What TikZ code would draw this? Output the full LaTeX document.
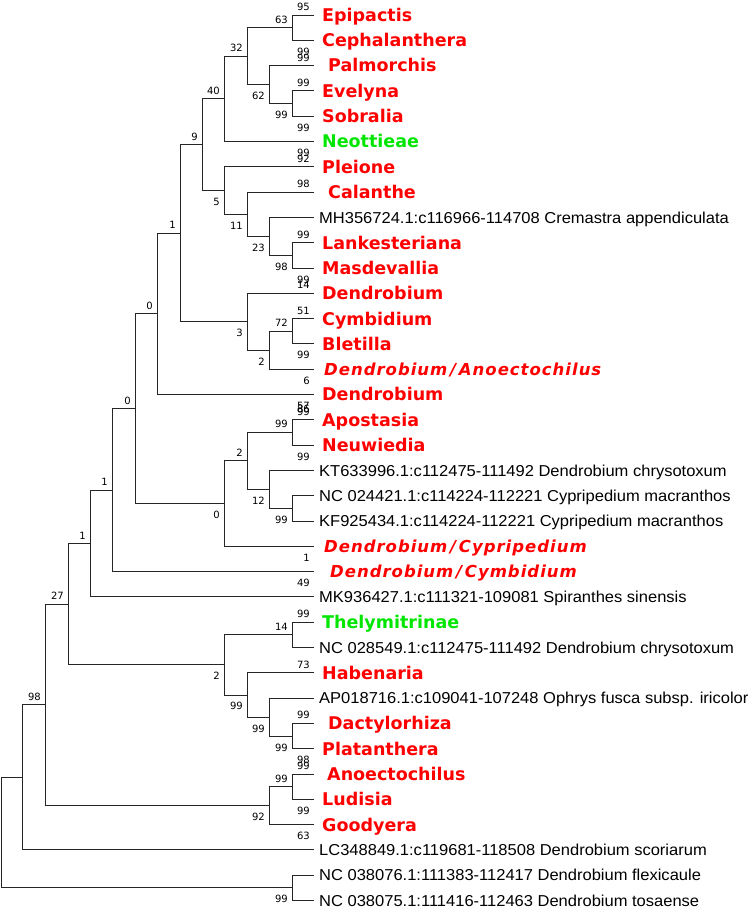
\documentclass[tikz,border=0pt]{standalone}
\usepackage{fontspec}
\setmainfont{Liberation Sans}
\newfontfamily\accfont[FakeStretch=1.045]{Liberation Sans}
\newfontfamily\verdfont{DejaVu Sans}
\newfontfamily\verdspaced[LetterSpace=6]{DejaVu Sans}
\definecolor{taxred}{RGB}{255,0,0}
\definecolor{taxgreen}{RGB}{0,230,0}
\tikzset{
	branch/.style={draw=black!85, line width=0.9pt},
	taxon/.style={anchor=base west, inner sep=0, xshift=8pt, yshift=-6.4pt, text=taxred, font=\verdfont\bfseries\fontsize{17.5}{20}\selectfont},
	taxit/.style={anchor=base west, inner sep=0, xshift=10pt, yshift=-6.2pt, text=taxred, font=\verdspaced\bfseries\itshape\fontsize{16.5}{20}\selectfont},
	clade/.style={taxon, text=taxgreen},
	accn/.style={anchor=base west, inner sep=0, xshift=5pt, yshift=-5.6pt, font=\accfont\fontsize{15.8}{18}\selectfont},
	bsup/.style={anchor=base east, inner sep=0, xshift=-4pt, yshift=4.5pt, font=\verdfont\fontsize{10}{12}\selectfont},
	bsdown/.style={bsup, yshift=-19.5pt}
}
\begin{document}
\begin{tikzpicture}[x=1pt, y=-1pt]
	\useasboundingbox (0,0) rectangle (751,912);

	\foreach \i in {1,...,36}
	{
		\coordinate (l\i) at (314, {15+(\i-1)*25.3});
	};

	\coordinate (n1) at (292, 27.65);
	\coordinate (n2) at (292, 103.55);
	\coordinate (n3) at (269, 84.6);
	\coordinate (n4) at (247, 56.1);
	\coordinate (n5) at (224, 98.8);
	\coordinate (n6) at (292, 255.35);
	\coordinate (n7) at (269, 236.4);
	\coordinate (n8) at (247, 214.25);
	\coordinate (n9) at (224, 190.5);
	\coordinate (n10) at (202, 144.65);
	\coordinate (n11) at (292, 331.25);
	\coordinate (n12) at (269, 350.2);
	\coordinate (n13) at (247, 321.75);
	\coordinate (n14) at (180, 233.2);
	\coordinate (n15) at (157, 313.85);
	\coordinate (n16) at (292, 432.45);
	\coordinate (n17) at (292, 508.35);
	\coordinate (n18) at (269, 489.4);
	\coordinate (n19) at (247, 460.9);
	\coordinate (n20) at (224, 503.6);
	\coordinate (n21) at (135, 408.7);
	\coordinate (n22) at (112, 490.15);
	\coordinate (n23) at (90, 543.5);
	\coordinate (n24) at (292, 634.85);
	\coordinate (n25) at (292, 736.05);
	\coordinate (n26) at (269, 717.1);
	\coordinate (n27) at (247, 694.95);
	\coordinate (n28) at (224, 664.9);
	\coordinate (n29) at (68, 604.2);
	\coordinate (n30) at (292, 786.65);
	\coordinate (n31) at (269, 805.6);
	\coordinate (n32) at (45, 704.9);
	\coordinate (n33) at (22, 777.4);
	\coordinate (n34) at (292, 887.85);
	\coordinate (n35) at (1, 832.6);

	\foreach \p / \c in {n1/l1, n1/l2, n2/l4, n2/l5, n3/l3, n3/n2, n4/n1, n4/n3,
		n5/n4, n5/l6, n6/l10, n6/l11, n7/l9, n7/n6, n8/l8, n8/n7, n9/l7, n9/n8,
		n10/n5, n10/n9, n11/l13, n11/l14, n12/n11, n12/l15, n13/l12, n13/n12,
		n14/n10, n14/n13, n15/n14, n15/l16, n16/l17, n16/l18, n17/l20, n17/l21,
		n18/l19, n18/n17, n19/n16, n19/n18, n20/n19, n20/l22, n21/n15, n21/n20,
		n22/n21, n22/l23, n23/n22, n23/l24, n24/l25, n24/l26, n25/l29, n25/l30,
		n26/l28, n26/n25, n27/l27, n27/n26, n28/n24, n28/n27, n29/n23, n29/n28,
		n30/l31, n30/l32, n31/n30, n31/l33, n32/n29, n32/n31, n33/n32, n33/l34,
		n34/l35, n34/l36, n35/n33, n35/n34}
	{
		\draw[branch] (\p) |- (\c);
	};

	\node[taxon] (t1) at (l1) {Epipactis};
	\node[taxon] (t2) at (l2) {Cephalanthera};
	\node[taxon, xshift=6pt] (t3) at (l3) {Palmorchis};
	\node[taxon] (t4) at (l4) {Evelyna};
	\node[taxon] (t5) at (l5) {Sobralia};
	\node[clade] (t6) at (l6) {Neottieae};
	\node[taxon] (t7) at (l7) {Pleione};
	\node[taxon, xshift=6pt] (t8) at (l8) {Calanthe};
	\node[accn] (t9) at (l9) {MH356724.1:c116966-114708 Cremastra appendiculata};
	\node[taxon] (t10) at (l10) {Lankesteriana};
	\node[taxon] (t11) at (l11) {Masdevallia};
	\node[taxon] (t12) at (l12) {Dendrobium};
	\node[taxon] (t13) at (l13) {Cymbidium};
	\node[taxon] (t14) at (l14) {Bletilla};
	\node[taxit] (t15) at (l15) {Dendrobium\,/\,Anoectochilus};
	\node[taxon] (t16) at (l16) {Dendrobium};
	\node[taxon] (t17) at (l17) {Apostasia};
	\node[taxon] (t18) at (l18) {Neuwiedia};
	\node[accn] (t19) at (l19) {KT633996.1:c112475-111492 Dendrobium chrysotoxum};
	\node[accn] (t20) at (l20) {NC 024421.1:c114224-112221 Cypripedium macranthos};
	\node[accn] (t21) at (l21) {KF925434.1:c114224-112221 Cypripedium macranthos};
	\node[taxit] (t22) at (l22) {Dendrobium\,/\,Cypripedium};
	\node[taxit, xshift=6pt] (t23) at (l23) {Dendrobium\,/\,Cymbidium};
	\node[accn] (t24) at (l24) {MK936427.1:c111321-109081 Spiranthes sinensis};
	\node[clade] (t25) at (l25) {Thelymitrinae};
	\node[accn] (t26) at (l26) {NC 028549.1:c112475-111492 Dendrobium chrysotoxum};
	\node[taxon] (t27) at (l27) {Habenaria};
	\node[accn] (t28) at (l28) {AP018716.1:c109041-107248 Ophrys fusca subsp. iricolor};
	\node[taxon, xshift=6pt] (t29) at (l29) {Dactylorhiza};
	\node[taxon] (t30) at (l30) {Platanthera};
	\node[taxon, xshift=5pt] (t31) at (l31) {Anoectochilus};
	\node[taxon] (t32) at (l32) {Ludisia};
	\node[taxon] (t33) at (l33) {Goodyera};
	\node[accn] (t34) at (l34) {LC348849.1:c119681-118508 Dendrobium scoriarum};
	\node[accn] (t35) at (l35) {NC 038076.1:111383-112417 Dendrobium flexicaule};
	\node[accn] (t36) at (l36) {NC 038075.1:111416-112463 Dendrobium tosaense};

	\foreach \n / \v in {n1/63, n4/32, n5/40, n10/9, n14/1, n15/0, n21/0, n22/1,
		n23/1, n29/27, n32/98, n11/72, n19/2, n16/99, n24/14, n30/99, l1/95,
		l3/99, l4/99, l7/92, l8/98, l10/99, l12/14, l13/51, l17/99, l25/99,
		l27/73, l29/99, l31/99}
	{
		\node[bsup] (u-\n) at (\n) {\v};
	};
	\foreach \n / \v in {n3/62, n2/99, n9/5, n8/11, n7/23, n6/98, n13/3, n12/2,
		n20/0, n18/12, n17/99, n28/2, n27/99, n26/99, n25/99, n31/92, n34/99,
		l2/99, l5/99, l6/99, l11/99, l14/99, l15/6, l16/57, l18/99, l22/1,
		l23/49, l30/98, l32/99, l33/63}
	{
		\node[bsdown] (d-\n) at (\n) {\v};
	};
	\node[bsdown, yshift=-3pt] (x-l16) at (l16) {86};
\end{tikzpicture}
\end{document}
